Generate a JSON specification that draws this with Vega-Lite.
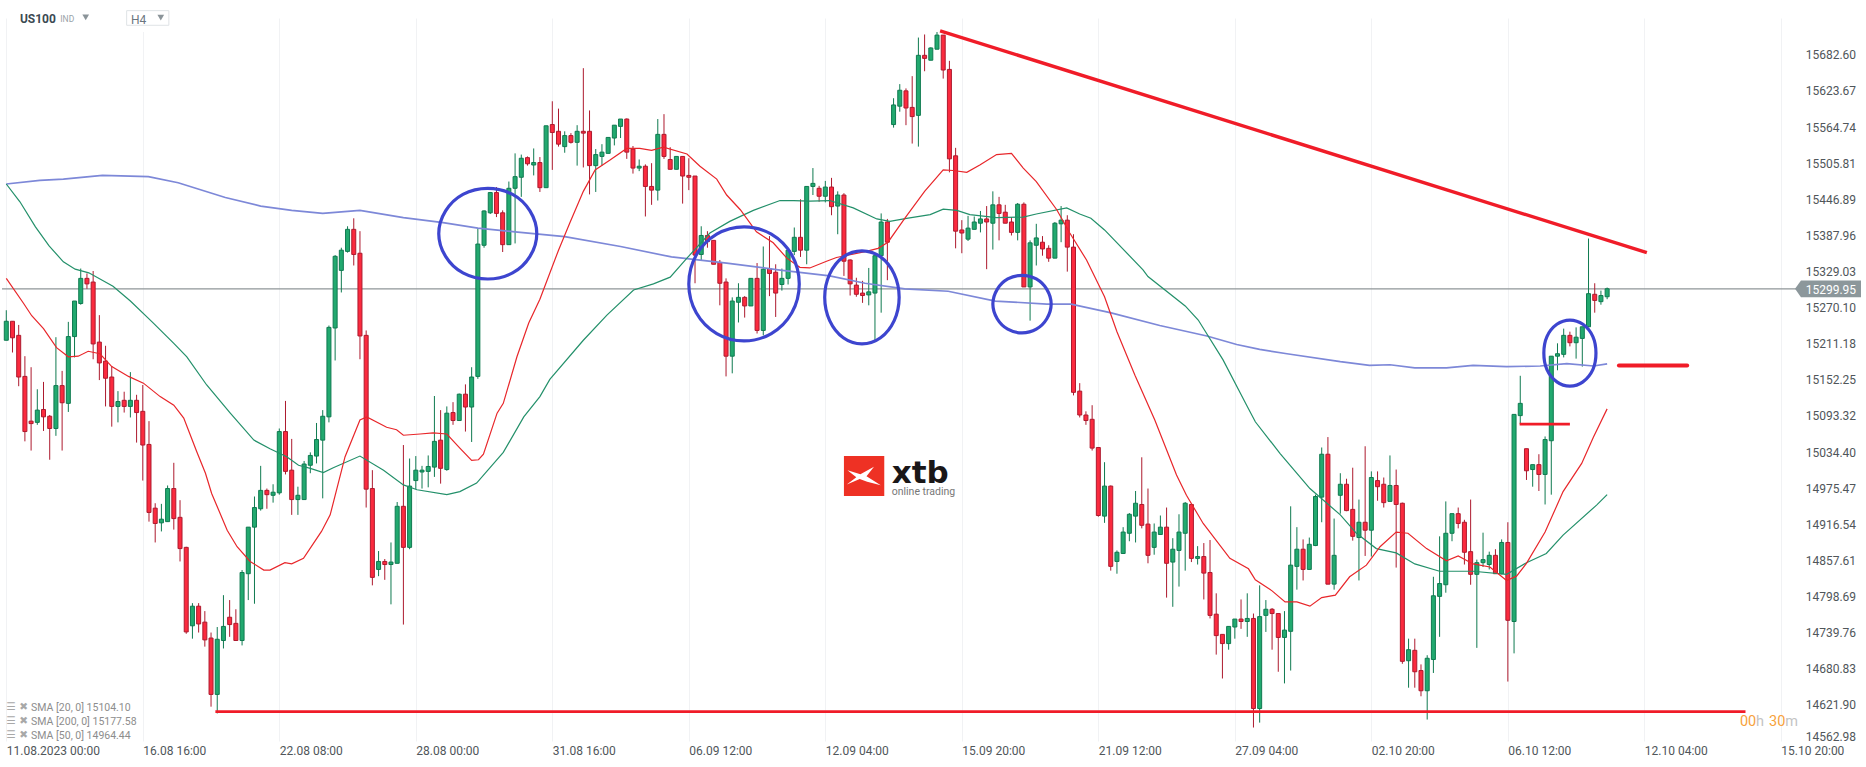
{
"$schema":"https://vega.github.io/schema/vega-lite/v6.json",
"autosize":{"type":"none"},
"padding":{"left":2,"top":18,"right":69,"bottom":26},
"width":1795,
"height":723,
"background":"white",
"config":{"view":{"stroke":null},"text":{"font":"Roboto"}},
"datasets":{
"candles":[
{"i":0,"o":15216,"h":15265,"l":15216,"c":15247},{"i":1,"o":15247,"h":15247,"l":15196,"c":15220},{"i":2,"o":15224,"h":15241,"l":15141,"c":15156},{"i":3,"o":15157,"h":15190,"l":15051,"c":15067},{"i":4,"o":15084,"h":15172,"l":15036,"c":15080},{"i":5,"o":15082,"h":15136,"l":15078,"c":15102},{"i":6,"o":15103,"h":15148,"l":15068,"c":15091},{"i":7,"o":15092,"h":15094,"l":15021,"c":15072},{"i":8,"o":15072,"h":15221,"l":15060,"c":15142},{"i":9,"o":15142,"h":15166,"l":15036,"c":15114},
{"i":10,"o":15113,"h":15246,"l":15099,"c":15222},{"i":11,"o":15222,"h":15280,"l":15188,"c":15280},{"i":12,"o":15276,"h":15333,"l":15274,"c":15317},{"i":13,"o":15317,"h":15325,"l":15300,"c":15308},{"i":14,"o":15311,"h":15329,"l":15185,"c":15210},{"i":15,"o":15213,"h":15257,"l":15151,"c":15179},{"i":16,"o":15182,"h":15207,"l":15108,"c":15154},{"i":17,"o":15156,"h":15174,"l":15075,"c":15108},{"i":18,"o":15108,"h":15133,"l":15082,"c":15116},{"i":19,"o":15118,"h":15132,"l":15098,"c":15108},
{"i":20,"o":15108,"h":15164,"l":15090,"c":15118},{"i":21,"o":15118,"h":15127,"l":15049,"c":15098},{"i":22,"o":15100,"h":15143,"l":14987,"c":15045},{"i":23,"o":15046,"h":15084,"l":14920,"c":14935},{"i":24,"o":14942,"h":14950,"l":14886,"c":14917},{"i":25,"o":14918,"h":14949,"l":14904,"c":14924},{"i":26,"o":14920,"h":14979,"l":14920,"c":14974},{"i":27,"o":14974,"h":15016,"l":14907,"c":14925},{"i":28,"o":14927,"h":14955,"l":14855,"c":14876},{"i":29,"o":14878,"h":14879,"l":14737,"c":14740},
{"i":30,"o":14750,"h":14787,"l":14729,"c":14782},{"i":31,"o":14782,"h":14787,"l":14739,"c":14753},{"i":32,"o":14756,"h":14774,"l":14716,"c":14727},{"i":33,"o":14730,"h":14739,"l":14618,"c":14638},{"i":34,"o":14638,"h":14748,"l":14607,"c":14728},{"i":35,"o":14726,"h":14800,"l":14713,"c":14749},{"i":36,"o":14764,"h":14792,"l":14732,"c":14752},{"i":37,"o":14754,"h":14777,"l":14726,"c":14726},{"i":38,"o":14726,"h":14841,"l":14718,"c":14837},{"i":39,"o":14835,"h":14911,"l":14792,"c":14911},
{"i":40,"o":14911,"h":14961,"l":14786,"c":14943},{"i":41,"o":14941,"h":15011,"l":14938,"c":14971},{"i":42,"o":14971,"h":14974,"l":14941,"c":14964},{"i":43,"o":14963,"h":14981,"l":14951,"c":14968},{"i":44,"o":14967,"h":15072,"l":14964,"c":15067},{"i":45,"o":15067,"h":15117,"l":14997,"c":15002},{"i":46,"o":15004,"h":15055,"l":14931,"c":14956},{"i":47,"o":14956,"h":14977,"l":14931,"c":14963},{"i":48,"o":14956,"h":15019,"l":14956,"c":15014},{"i":49,"o":15012,"h":15033,"l":14999,"c":15028},
{"i":50,"o":15027,"h":15081,"l":15015,"c":15054},{"i":51,"o":15053,"h":15102,"l":14958,"c":15092},{"i":52,"o":15091,"h":15240,"l":15082,"c":15237},{"i":53,"o":15236,"h":15355,"l":15183,"c":15353},{"i":54,"o":15330,"h":15367,"l":15294,"c":15363},{"i":55,"o":15361,"h":15402,"l":15359,"c":15397},{"i":56,"o":15397,"h":15415,"l":15338,"c":15356},{"i":57,"o":15358,"h":15394,"l":15185,"c":15223},{"i":58,"o":15224,"h":15232,"l":14943,"c":14973},{"i":59,"o":14974,"h":15004,"l":14816,"c":14829},
{"i":60,"o":14842,"h":14872,"l":14831,"c":14855},{"i":61,"o":14855,"h":14859,"l":14825,"c":14850},{"i":62,"o":14850,"h":14886,"l":14785,"c":14854},{"i":63,"o":14852,"h":14952,"l":14852,"c":14945},{"i":64,"o":14945,"h":15045,"l":14752,"c":14878},{"i":65,"o":14878,"h":15023,"l":14875,"c":14978},{"i":66,"o":14987,"h":15027,"l":14973,"c":15004},{"i":67,"o":15001,"h":15011,"l":14974,"c":15004},{"i":68,"o":15002,"h":15028,"l":14976,"c":15010},{"i":69,"o":15009,"h":15125,"l":14993,"c":15051},
{"i":70,"o":15053,"h":15102,"l":14982,"c":15007},{"i":71,"o":15005,"h":15108,"l":15003,"c":15097},{"i":72,"o":15098,"h":15115,"l":15078,"c":15085},{"i":73,"o":15085,"h":15129,"l":15085,"c":15128},{"i":74,"o":15128,"h":15144,"l":15067,"c":15107},{"i":75,"o":15107,"h":15172,"l":15050,"c":15156},{"i":76,"o":15157,"h":15399,"l":15153,"c":15373},{"i":77,"o":15371,"h":15428,"l":15367,"c":15427},{"i":78,"o":15424,"h":15458,"l":15422,"c":15457},{"i":79,"o":15457,"h":15466,"l":15417,"c":15423},
{"i":80,"o":15424,"h":15428,"l":15360,"c":15372},{"i":81,"o":15372,"h":15475,"l":15372,"c":15464},{"i":82,"o":15464,"h":15521,"l":15374,"c":15483},{"i":83,"o":15482,"h":15519,"l":15450,"c":15513},{"i":84,"o":15514,"h":15516,"l":15501,"c":15504},{"i":85,"o":15502,"h":15529,"l":15485,"c":15506},{"i":86,"o":15506,"h":15515,"l":15458,"c":15465},{"i":87,"o":15465,"h":15566,"l":15465,"c":15566},{"i":88,"o":15568,"h":15606,"l":15494,"c":15555},{"i":89,"o":15557,"h":15594,"l":15532,"c":15536},
{"i":90,"o":15532,"h":15557,"l":15522,"c":15550},{"i":91,"o":15550,"h":15554,"l":15537,"c":15539},{"i":92,"o":15539,"h":15567,"l":15501,"c":15557},{"i":93,"o":15557,"h":15660,"l":15498,"c":15554},{"i":94,"o":15557,"h":15591,"l":15454,"c":15501},{"i":95,"o":15501,"h":15528,"l":15458,"c":15519},{"i":96,"o":15516,"h":15536,"l":15501,"c":15523},{"i":97,"o":15521,"h":15547,"l":15521,"c":15547},{"i":98,"o":15546,"h":15567,"l":15534,"c":15567},{"i":99,"o":15565,"h":15577,"l":15546,"c":15577},
{"i":100,"o":15577,"h":15578,"l":15512,"c":15523},{"i":101,"o":15528,"h":15533,"l":15488,"c":15497},{"i":102,"o":15497,"h":15511,"l":15492,"c":15500},{"i":103,"o":15500,"h":15503,"l":15418,"c":15467},{"i":104,"o":15467,"h":15505,"l":15437,"c":15461},{"i":105,"o":15461,"h":15577,"l":15444,"c":15552},{"i":106,"o":15552,"h":15585,"l":15512,"c":15516},{"i":107,"o":15511,"h":15531,"l":15495,"c":15495},{"i":108,"o":15495,"h":15516,"l":15495,"c":15516},{"i":109,"o":15516,"h":15516,"l":15439,"c":15484},
{"i":110,"o":15485,"h":15513,"l":15461,"c":15482},{"i":111,"o":15484,"h":15484,"l":15309,"c":15355},{"i":112,"o":15356,"h":15402,"l":15347,"c":15387},{"i":113,"o":15387,"h":15394,"l":15367,"c":15377},{"i":114,"o":15379,"h":15379,"l":15340,"c":15340},{"i":115,"o":15343,"h":15347,"l":15273,"c":15309},{"i":116,"o":15311,"h":15317,"l":15157,"c":15190},{"i":117,"o":15190,"h":15286,"l":15162,"c":15280},{"i":118,"o":15278,"h":15309,"l":15245,"c":15286},{"i":119,"o":15286,"h":15288,"l":15253,"c":15272},
{"i":120,"o":15272,"h":15317,"l":15272,"c":15317},{"i":121,"o":15317,"h":15342,"l":15227,"c":15232},{"i":122,"o":15232,"h":15369,"l":15224,"c":15332},{"i":123,"o":15333,"h":15386,"l":15288,"c":15325},{"i":124,"o":15327,"h":15340,"l":15254,"c":15293},{"i":125,"o":15307,"h":15333,"l":15297,"c":15317},{"i":126,"o":15317,"h":15363,"l":15307,"c":15363},{"i":127,"o":15361,"h":15400,"l":15355,"c":15384},{"i":128,"o":15384,"h":15446,"l":15352,"c":15363},{"i":129,"o":15363,"h":15467,"l":15340,"c":15467},
{"i":130,"o":15467,"h":15497,"l":15453,"c":15472},{"i":131,"o":15464,"h":15468,"l":15442,"c":15451},{"i":132,"o":15451,"h":15476,"l":15441,"c":15466},{"i":133,"o":15466,"h":15481,"l":15420,"c":15434},{"i":134,"o":15435,"h":15459,"l":15389,"c":15453},{"i":135,"o":15453,"h":15456,"l":15321,"c":15345},{"i":136,"o":15347,"h":15348,"l":15289,"c":15308},{"i":137,"o":15306,"h":15318,"l":15287,"c":15291},{"i":138,"o":15293,"h":15313,"l":15277,"c":15289},{"i":139,"o":15290,"h":15334,"l":15273,"c":15295},
{"i":140,"o":15293,"h":15358,"l":15213,"c":15354},{"i":141,"o":15354,"h":15423,"l":15261,"c":15409},{"i":142,"o":15409,"h":15414,"l":15314,"c":15376},{"i":143,"o":15568,"h":15611,"l":15563,"c":15600},{"i":144,"o":15598,"h":15634,"l":15589,"c":15624},{"i":145,"o":15623,"h":15627,"l":15567,"c":15595},{"i":146,"o":15596,"h":15647,"l":15537,"c":15581},{"i":147,"o":15583,"h":15710,"l":15532,"c":15681},{"i":148,"o":15681,"h":15715,"l":15655,"c":15676},{"i":149,"o":15673,"h":15694,"l":15673,"c":15693},
{"i":150,"o":15691,"h":15719,"l":15691,"c":15714},{"i":151,"o":15714,"h":15714,"l":15643,"c":15657},{"i":152,"o":15658,"h":15672,"l":15490,"c":15512},{"i":153,"o":15517,"h":15530,"l":15366,"c":15394},{"i":154,"o":15396,"h":15412,"l":15358,"c":15391},{"i":155,"o":15381,"h":15419,"l":15378,"c":15399},{"i":156,"o":15397,"h":15418,"l":15397,"c":15409},{"i":157,"o":15407,"h":15427,"l":15392,"c":15414},{"i":158,"o":15414,"h":15435,"l":15332,"c":15409},{"i":159,"o":15407,"h":15459,"l":15364,"c":15437},
{"i":160,"o":15437,"h":15450,"l":15379,"c":15423},{"i":161,"o":15425,"h":15437,"l":15407,"c":15407},{"i":162,"o":15409,"h":15417,"l":15387,"c":15392},{"i":163,"o":15392,"h":15440,"l":15379,"c":15438},{"i":164,"o":15438,"h":15441,"l":15303,"c":15303},{"i":165,"o":15303,"h":15379,"l":15248,"c":15375},{"i":166,"o":15371,"h":15406,"l":15338,"c":15383},{"i":167,"o":15376,"h":15386,"l":15354,"c":15365},{"i":168,"o":15366,"h":15371,"l":15344,"c":15350},{"i":169,"o":15350,"h":15409,"l":15350,"c":15407},
{"i":170,"o":15406,"h":15435,"l":15376,"c":15412},{"i":171,"o":15412,"h":15420,"l":15328,"c":15368},{"i":172,"o":15368,"h":15389,"l":15126,"c":15131},{"i":173,"o":15133,"h":15146,"l":15090,"c":15094},{"i":174,"o":15094,"h":15100,"l":15078,"c":15085},{"i":175,"o":15087,"h":15110,"l":15036,"c":15040},{"i":176,"o":15041,"h":15041,"l":14928,"c":14930},{"i":177,"o":14929,"h":15017,"l":14918,"c":14978},{"i":178,"o":14978,"h":14979,"l":14840,"c":14847},{"i":179,"o":14855,"h":14873,"l":14835,"c":14870},
{"i":180,"o":14868,"h":14911,"l":14868,"c":14903},{"i":181,"o":14901,"h":14934,"l":14888,"c":14932},{"i":182,"o":14929,"h":14970,"l":14886,"c":14950},{"i":183,"o":14948,"h":15025,"l":14909,"c":14914},{"i":184,"o":14916,"h":14974,"l":14852,"c":14865},{"i":185,"o":14878,"h":14917,"l":14866,"c":14903},{"i":186,"o":14899,"h":14930,"l":14899,"c":14911},{"i":187,"o":14911,"h":14943,"l":14796,"c":14852},{"i":188,"o":14854,"h":14893,"l":14781,"c":14875},{"i":189,"o":14873,"h":14932,"l":14814,"c":14903},
{"i":190,"o":14901,"h":14952,"l":14840,"c":14950},{"i":191,"o":14948,"h":14948,"l":14854,"c":14860},{"i":192,"o":14860,"h":14880,"l":14850,"c":14863},{"i":193,"o":14863,"h":14885,"l":14793,"c":14836},{"i":194,"o":14837,"h":14890,"l":14762,"c":14767},{"i":195,"o":14769,"h":14803,"l":14703,"c":14734},{"i":196,"o":14736,"h":14736,"l":14664,"c":14721},{"i":197,"o":14721,"h":14749,"l":14711,"c":14749},{"i":198,"o":14748,"h":14761,"l":14729,"c":14761},{"i":199,"o":14761,"h":14793,"l":14745,"c":14757},
{"i":200,"o":14757,"h":14803,"l":14732,"c":14762},{"i":201,"o":14762,"h":14770,"l":14584,"c":14615},{"i":202,"o":14615,"h":14816,"l":14592,"c":14765},{"i":203,"o":14767,"h":14792,"l":14740,"c":14777},{"i":204,"o":14777,"h":14779,"l":14711,"c":14770},{"i":205,"o":14770,"h":14770,"l":14675,"c":14731},{"i":206,"o":14731,"h":14774,"l":14656,"c":14743},{"i":207,"o":14741,"h":14945,"l":14677,"c":14849},{"i":208,"o":14847,"h":14911,"l":14809,"c":14875},{"i":209,"o":14875,"h":14891,"l":14824,"c":14842},
{"i":210,"o":14842,"h":14894,"l":14842,"c":14883},{"i":211,"o":14881,"h":14964,"l":14880,"c":14961},{"i":212,"o":14960,"h":15041,"l":14919,"c":15030},{"i":213,"o":15030,"h":15058,"l":14818,"c":14818},{"i":214,"o":14818,"h":14925,"l":14809,"c":14865},{"i":215,"o":14963,"h":14999,"l":14933,"c":14981},{"i":216,"o":14981,"h":14990,"l":14937,"c":14938},{"i":217,"o":14940,"h":15008,"l":14889,"c":14896},{"i":218,"o":14894,"h":14956,"l":14824,"c":14919},{"i":219,"o":14919,"h":15043,"l":14864,"c":14906},
{"i":220,"o":14906,"h":15002,"l":14863,"c":14992},{"i":221,"o":14987,"h":15002,"l":14954,"c":14977},{"i":222,"o":14981,"h":14992,"l":14943,"c":14951},{"i":223,"o":14953,"h":15028,"l":14953,"c":14979},{"i":224,"o":14979,"h":15005,"l":14845,"c":14948},{"i":225,"o":14950,"h":14951,"l":14688,"c":14692},{"i":226,"o":14693,"h":14729,"l":14649,"c":14711},{"i":227,"o":14710,"h":14729,"l":14649,"c":14675},{"i":228,"o":14677,"h":14687,"l":14635,"c":14644},{"i":229,"o":14644,"h":14702,"l":14597,"c":14697},
{"i":230,"o":14695,"h":14830,"l":14673,"c":14799},{"i":231,"o":14798,"h":14896,"l":14732,"c":14819},{"i":232,"o":14817,"h":14953,"l":14804,"c":14901},{"i":233,"o":14901,"h":14933,"l":14888,"c":14933},{"i":234,"o":14933,"h":14943,"l":14909,"c":14917},{"i":235,"o":14919,"h":14923,"l":14850,"c":14870},{"i":236,"o":14871,"h":14956,"l":14817,"c":14834},{"i":237,"o":14834,"h":14858,"l":14714,"c":14853},{"i":238,"o":14853,"h":14902,"l":14846,"c":14858},{"i":239,"o":14850,"h":14871,"l":14842,"c":14865},
{"i":240,"o":14865,"h":14875,"l":14835,"c":14835},{"i":241,"o":14835,"h":14891,"l":14834,"c":14886},{"i":242,"o":14886,"h":14919,"l":14659,"c":14759},{"i":243,"o":14757,"h":15095,"l":14705,"c":15095},{"i":244,"o":15093,"h":15158,"l":15079,"c":15113},{"i":245,"o":15039,"h":15039,"l":14988,"c":15003},{"i":246,"o":15005,"h":15013,"l":14977,"c":15013},{"i":247,"o":15013,"h":15030,"l":14970,"c":14997},{"i":248,"o":14997,"h":15059,"l":14948,"c":15054},{"i":249,"o":15052,"h":15190,"l":14964,"c":15190},
{"i":250,"o":15190,"h":15211,"l":15167,"c":15194},{"i":251,"o":15193,"h":15235,"l":15188,"c":15224},{"i":252,"o":15224,"h":15230,"l":15206,"c":15212},{"i":253,"o":15212,"h":15237,"l":15186,"c":15221},{"i":254,"o":15219,"h":15238,"l":15173,"c":15238},{"i":255,"o":15238,"h":15382,"l":15238,"c":15292},{"i":256,"o":15291,"h":15309,"l":15261,"c":15281},{"i":257,"o":15279,"h":15297,"l":15274,"c":15289},{"i":258,"o":15287,"h":15302,"l":15283,"c":15300}
],
"sma20":[
{"i":0,"p":15317},{"i":2.8,"p":15276},{"i":4.1,"p":15256},{"i":6,"p":15235},{"i":8.1,"p":15204},{"i":10,"p":15189},{"i":11.6,"p":15190},{"i":13.2,"p":15198},{"i":15.1,"p":15194},{"i":17,"p":15173},{"i":19.7,"p":15157},{"i":22.1,"p":15146},{"i":24.8,"p":15124},{"i":27,"p":15110},{"i":28.6,"p":15089},{"i":30.7,"p":15034},{"i":32.1,"p":14999},{"i":33.1,"p":14966},{"i":35.6,"p":14906},{"i":37.2,"p":14879},{"i":39.3,"p":14855},{"i":41.5,"p":14841},{"i":42.5,"p":14841},{"i":44.9,"p":14853},{"i":46,"p":14851},{"i":47.9,"p":14860},{"i":50.8,"p":14904},{"i":52.2,"p":14931},{"i":54.6,"p":15026},{"i":57,"p":15086},{"i":58.1,"p":15091},{"i":61.3,"p":15074},{"i":62.9,"p":15070},{"i":64,"p":15061},{"i":66.7,"p":15063},{"i":68.8,"p":15065},{"i":71,"p":15063},{"i":73.1,"p":15040},{"i":75,"p":15020},{"i":76.1,"p":15021},{"i":76.9,"p":15030},{"i":79.1,"p":15097},{"i":80.1,"p":15113},{"i":82.3,"p":15189},{"i":84.2,"p":15244},{"i":86,"p":15283},{"i":89,"p":15363},{"i":90.8,"p":15407},{"i":93,"p":15459},{"i":94.9,"p":15494},{"i":97.3,"p":15510},{"i":100,"p":15529},{"i":102.1,"p":15529},{"i":104,"p":15526},{"i":105.9,"p":15531},{"i":109.7,"p":15520},{"i":111.8,"p":15500},{"i":114.5,"p":15479},{"i":116.1,"p":15453},{"i":118.3,"p":15429},{"i":120.9,"p":15393},{"i":123.6,"p":15375},{"i":125.8,"p":15350},{"i":127.9,"p":15335},{"i":129.5,"p":15334},{"i":132.2,"p":15345},{"i":133.8,"p":15351},{"i":138.6,"p":15361},{"i":140.5,"p":15366},{"i":142.1,"p":15376},{"i":144.8,"p":15415},{"i":148,"p":15459},{"i":151,"p":15494},{"i":152.6,"p":15493},{"i":154.8,"p":15490},{"i":156.9,"p":15502},{"i":159.6,"p":15519},{"i":162,"p":15521},{"i":163.9,"p":15497},{"i":166,"p":15475},{"i":169.3,"p":15429},{"i":171.4,"p":15391},{"i":174.1,"p":15347},{"i":177,"p":15287},{"i":179,"p":15230},{"i":181.9,"p":15159},{"i":185.1,"p":15086},{"i":188.6,"p":14996},{"i":190.2,"p":14963},{"i":192.9,"p":14917},{"i":197.2,"p":14860},{"i":200.2,"p":14843},{"i":201.3,"p":14825},{"i":204,"p":14807},{"i":206.1,"p":14789},{"i":208,"p":14789},{"i":210.1,"p":14782},{"i":212,"p":14796},{"i":214.2,"p":14800},{"i":216.5,"p":14830},{"i":219.2,"p":14849},{"i":221.4,"p":14879},{"i":224,"p":14903},{"i":225.9,"p":14901},{"i":228.9,"p":14876},{"i":232.1,"p":14856},{"i":234,"p":14864},{"i":236.4,"p":14851},{"i":239.1,"p":14846},{"i":241.8,"p":14824},{"i":243.4,"p":14831},{"i":245,"p":14852},{"i":248,"p":14903},{"i":250.9,"p":14969},{"i":253.9,"p":15015},{"i":255.8,"p":15058},{"i":258,"p":15104}
],
"sma50":[
{"i":0,"p":15471},{"i":2.2,"p":15442},{"i":4.7,"p":15401},{"i":6.9,"p":15370},{"i":9.2,"p":15344},{"i":11.1,"p":15332},{"i":13.3,"p":15326},{"i":17.2,"p":15304},{"i":20,"p":15280},{"i":23.5,"p":15246},{"i":27,"p":15211},{"i":29.1,"p":15189},{"i":32.3,"p":15143},{"i":36.1,"p":15097},{"i":39.9,"p":15053},{"i":42.5,"p":15039},{"i":45.2,"p":15026},{"i":47.1,"p":15012},{"i":49,"p":15007},{"i":51.1,"p":15000},{"i":52.7,"p":15008},{"i":57,"p":15027},{"i":60.8,"p":15004},{"i":64,"p":14980},{"i":66.2,"p":14972},{"i":71,"p":14964},{"i":73.1,"p":14969},{"i":75.8,"p":14983},{"i":80.1,"p":15033},{"i":83.4,"p":15091},{"i":86,"p":15124},{"i":87.6,"p":15152},{"i":93,"p":15216},{"i":96.8,"p":15257},{"i":101.1,"p":15298},{"i":104.3,"p":15308},{"i":107,"p":15319},{"i":109.7,"p":15350},{"i":113.4,"p":15391},{"i":116.6,"p":15410},{"i":120.4,"p":15428},{"i":124.7,"p":15444},{"i":126.9,"p":15444},{"i":129.5,"p":15443},{"i":132.7,"p":15444},{"i":136.5,"p":15432},{"i":140.3,"p":15414},{"i":142.4,"p":15410},{"i":145.1,"p":15415},{"i":148.9,"p":15421},{"i":151,"p":15430},{"i":153.2,"p":15428},{"i":155.3,"p":15421},{"i":159.6,"p":15416},{"i":163.9,"p":15417},{"i":166,"p":15422},{"i":170.9,"p":15432},{"i":173,"p":15422},{"i":174.8,"p":15415},{"i":177,"p":15396},{"i":183.2,"p":15331},{"i":184,"p":15320},{"i":190,"p":15272},{"i":192.1,"p":15249},{"i":196.1,"p":15184},{"i":199.9,"p":15110},{"i":201.3,"p":15083},{"i":205.3,"p":15031},{"i":210.1,"p":14974},{"i":215,"p":14931},{"i":217.6,"p":14901},{"i":220.8,"p":14876},{"i":224,"p":14869},{"i":227,"p":14851},{"i":231,"p":14839},{"i":236.4,"p":14839},{"i":241.8,"p":14834},{"i":245,"p":14853},{"i":248.2,"p":14868},{"i":250.9,"p":14898},{"i":256.3,"p":14947},{"i":258,"p":14964}
],
"sma200":[
{"i":0,"p":15471},{"i":5.4,"p":15477},{"i":9.2,"p":15479},{"i":15.5,"p":15485},{"i":22.9,"p":15483},{"i":27.7,"p":15473},{"i":35.3,"p":15449},{"i":41,"p":15435},{"i":46,"p":15428},{"i":51,"p":15423},{"i":57,"p":15428},{"i":64,"p":15416},{"i":70.4,"p":15408},{"i":76,"p":15399},{"i":82,"p":15393},{"i":90,"p":15385},{"i":99,"p":15369},{"i":107.2,"p":15352},{"i":116.1,"p":15342},{"i":124.4,"p":15331},{"i":132.7,"p":15321},{"i":138.4,"p":15309},{"i":144.8,"p":15300},{"i":151.8,"p":15296},{"i":159.4,"p":15280},{"i":167.7,"p":15275},{"i":171.6,"p":15275},{"i":177.9,"p":15261},{"i":185.9,"p":15240},{"i":193.5,"p":15223},{"i":198.3,"p":15209},{"i":202,"p":15201},{"i":206.4,"p":15194},{"i":215,"p":15181},{"i":219.7,"p":15175},{"i":223,"p":15176},{"i":227,"p":15171},{"i":232.1,"p":15171},{"i":236.4,"p":15175},{"i":241.8,"p":15173},{"i":247.2,"p":15174},{"i":251.5,"p":15178},{"i":255.8,"p":15174},{"i":258,"p":15177.58}
],
"ellipses":[
{"e":1,"k":0,"i":85.5,"p":15390},{"e":1,"k":1,"i":84.4,"p":15427},{"e":1,"k":2,"i":81.6,"p":15454},{"e":1,"k":3,"i":77.6,"p":15464},{"e":1,"k":4,"i":73.6,"p":15454},{"e":1,"k":5,"i":70.8,"p":15427},{"e":1,"k":6,"i":69.7,"p":15390},{"e":1,"k":7,"i":70.8,"p":15353},{"e":1,"k":8,"i":73.6,"p":15326},{"e":1,"k":9,"i":77.6,"p":15316},{"e":1,"k":10,"i":81.6,"p":15326},{"e":1,"k":11,"i":84.4,"p":15353},
{"e":2,"k":0,"i":127.8,"p":15308},{"e":2,"k":1,"i":126.6,"p":15355},{"e":2,"k":2,"i":123.3,"p":15389},{"e":2,"k":3,"i":118.9,"p":15401},{"e":2,"k":4,"i":114.5,"p":15389},{"e":2,"k":5,"i":111.2,"p":15355},{"e":2,"k":6,"i":110,"p":15308},{"e":2,"k":7,"i":111.2,"p":15261},{"e":2,"k":8,"i":114.5,"p":15227},{"e":2,"k":9,"i":118.9,"p":15215},{"e":2,"k":10,"i":123.3,"p":15227},{"e":2,"k":11,"i":126.6,"p":15261},
{"e":3,"k":0,"i":143.9,"p":15286},{"e":3,"k":1,"i":143.1,"p":15324},{"e":3,"k":2,"i":140.9,"p":15352},{"e":3,"k":3,"i":137.9,"p":15362},{"e":3,"k":4,"i":134.9,"p":15352},{"e":3,"k":5,"i":132.7,"p":15324},{"e":3,"k":6,"i":131.9,"p":15286},{"e":3,"k":7,"i":132.7,"p":15248},{"e":3,"k":8,"i":134.9,"p":15220},{"e":3,"k":9,"i":137.9,"p":15210},{"e":3,"k":10,"i":140.9,"p":15220},{"e":3,"k":11,"i":143.1,"p":15248},
{"e":4,"k":0,"i":168.4,"p":15275},{"e":4,"k":1,"i":167.7,"p":15299},{"e":4,"k":2,"i":166,"p":15316},{"e":4,"k":3,"i":163.7,"p":15322},{"e":4,"k":4,"i":161.4,"p":15316},{"e":4,"k":5,"i":159.7,"p":15299},{"e":4,"k":6,"i":159,"p":15275},{"e":4,"k":7,"i":159.7,"p":15251},{"e":4,"k":8,"i":161.4,"p":15234},{"e":4,"k":9,"i":163.7,"p":15228},{"e":4,"k":10,"i":166,"p":15234},{"e":4,"k":11,"i":167.7,"p":15251},
{"e":5,"k":0,"i":256.2,"p":15195},{"e":5,"k":1,"i":255.7,"p":15222},{"e":5,"k":2,"i":254.1,"p":15242},{"e":5,"k":3,"i":252,"p":15249},{"e":5,"k":4,"i":249.9,"p":15242},{"e":5,"k":5,"i":248.3,"p":15222},{"e":5,"k":6,"i":247.8,"p":15195},{"e":5,"k":7,"i":248.3,"p":15168},{"e":5,"k":8,"i":249.9,"p":15148},{"e":5,"k":9,"i":252,"p":15141},{"e":5,"k":10,"i":254.1,"p":15148},{"e":5,"k":11,"i":255.7,"p":15168}
]
},
"encoding":{
"x":{"field":"i","type":"quantitative","title":null,"scale":{"domain":[-0.69,288.6],"nice":false,"zero":false,"padding":0},
"axis":{"values":[0,22,44,66,88,110,132,154,176,198,220,242,264,286],
"labelExpr":"['11.08.2023  00:00','16.08  16:00','22.08  08:00','28.08  00:00','31.08  16:00','06.09  12:00','12.09  04:00','15.09  20:00','21.09  12:00','27.09  04:00','02.10  20:00','06.10  12:00','12.10  04:00','15.10  20:00'][datum.value/22]",
"grid":true,"gridColor":"#f1f2f4","gridWidth":1,"ticks":false,"domain":false,"labelAlign":"left","labelBaseline":"middle","labelPadding":9,"labelFont":"Roboto","labelFontSize":12,"labelColor":"#50565a","labelOverlap":false,"labelBound":false,"labelFlush":false}},
"y":{"field":"p","type":"quantitative","title":null,"scale":{"domain":[14562,15741.9],"nice":false,"zero":false},
"axis":{"orient":"right","values":[15682.6,15623.67,15564.74,15505.81,15446.89,15387.96,15329.03,15270.1,15211.18,15152.25,15093.32,15034.4,14975.47,14916.54,14857.61,14798.69,14739.76,14680.83,14621.9,14562.98],
"grid":true,"gridColor":"#f1f2f4","gridWidth":1,"ticks":false,"domain":false,"labels":false}}
},
"layer":[
{"data":{"values":[{"i":132.9,"i2":153.7,"p":15042,"p2":14955.4},{"i":19.4,"i2":26.2,"p":15741.9,"p2":15719}]},
"mark":{"type":"rect","color":"white"},
"encoding":{"x2":{"field":"i2"},"y2":{"field":"p2"}}},
{"data":{"values":[{"i":-0.69,"i2":288.6,"p":15299.95,"p2":15299.95}]},
"mark":{"type":"rule","color":"#8f9698","strokeWidth":1.2},
"encoding":{"x2":{"field":"i2"},"y2":{"field":"p2"}}},
{"data":{"name":"candles"},
"mark":{"type":"rule","strokeWidth":1},
"encoding":{"y":{"field":"h","type":"quantitative","title":null,"axis":null,"scale":{"domain":[14562,15741.9],"nice":false,"zero":false}},"y2":{"field":"l"},
"color":{"condition":{"test":"datum.c>=datum.o","value":"#0f7a50"},"value":"#ad1a2e"}}},
{"data":{"name":"candles"},
"mark":{"type":"bar","size":4,"strokeWidth":1,"orient":"vertical"},
"encoding":{"y":{"field":"o","type":"quantitative","title":null,"axis":null,"scale":{"domain":[14562,15741.9],"nice":false,"zero":false}},"y2":{"field":"c"},
"fill":{"condition":{"test":"datum.c>=datum.o","value":"#22a96f"},"value":"#fb2a3e"},
"stroke":{"condition":{"test":"datum.c>=datum.o","value":"#0f7a50"},"value":"#ad1a2e"}}},
{"data":{"name":"sma200"},"mark":{"type":"line","color":"#7d88d8","strokeWidth":1.7}},
{"data":{"name":"sma50"},"mark":{"type":"line","color":"#23906a","strokeWidth":1.2}},
{"data":{"name":"sma20"},"mark":{"type":"line","color":"#e8262a","strokeWidth":1.2}},
{"data":{"name":"ellipses"},
"mark":{"type":"line","color":"#3d45cf","strokeWidth":3.2,"interpolate":"cardinal-closed"},
"encoding":{"detail":{"field":"e"},"order":{"field":"k"}}},
{"data":{"values":[{"i":150.5,"i2":264.4,"p":15721,"p2":15359}]},
"mark":{"type":"rule","color":"#f01c28","strokeWidth":3.4},
"encoding":{"x2":{"field":"i2"},"y2":{"field":"p2"}}},
{"data":{"values":[{"i":33.7,"i2":280.3,"p":14610,"p2":14610},{"i":243.9,"i2":252,"p":15079,"p2":15079}]},
"mark":{"type":"rule","color":"#f01c28","strokeWidth":2.8},
"encoding":{"x2":{"field":"i2"},"y2":{"field":"p2"}}},
{"data":{"values":[{"i":259.9,"i2":270.9,"p":15175,"p2":15175}]},
"mark":{"type":"rule","color":"#f01c28","strokeWidth":4,"strokeCap":"round"},
"encoding":{"x2":{"field":"i2"},"y2":{"field":"p2"}}},
{"data":{"values":[{"i":135,"i2":141.5,"p":15027,"p2":14962}]},
"mark":{"type":"rect","color":"#ee3124"},
"encoding":{"x2":{"field":"i2"},"y2":{"field":"p2"}}},
{"data":{"values":[{"i":138.2,"p":14994}]},
"mark":{"type":"point","filled":true,"color":"white","opacity":1,"size":4624,"shape":"M-.48,-.18L-.1,-.06L.3,-.28L.08,0L.5,.26L.1,.16L-.12,.08L-.5,.24L-.22,.03Z"}},
{"data":{"values":[{"i":142.7,"p":14983,"t":"xtb"}]},
"mark":{"type":"text","font":"DejaVu Sans","fontWeight":"bold","fontSize":31,"color":"#1a1718","align":"left","baseline":"alphabetic"},
"encoding":{"text":{"field":"t"}}},
{"data":{"values":[{"i":142.7,"p":14968,"t":"online trading"}]},
"mark":{"type":"text","fontSize":10.5,"color":"#777777","align":"left","baseline":"middle"},
"encoding":{"text":{"field":"t"}}},
{"data":{"values":[{"i":4,"p":14616.6,"t":"SMA [20,  0] 15104.10"},{"i":4,"p":14593.6,"t":"SMA [200,  0] 15177.58"},{"i":4,"p":14570.6,"t":"SMA [50,  0] 14964.44"}]},
"mark":{"type":"text","fontSize":10.5,"color":"#8d8d8d","align":"left","baseline":"middle"},
"encoding":{"text":{"field":"t"}}},
{"data":{"values":[{"i":0.76,"p":14618,"t":"☰"},{"i":0.76,"p":14595,"t":"☰"},{"i":0.76,"p":14572,"t":"☰"},{"i":2.8,"p":14618,"t":"✖"},{"i":2.8,"p":14595,"t":"✖"},{"i":2.8,"p":14572,"t":"✖"}]},
"mark":{"type":"text","font":"DejaVu Sans","fontSize":10.5,"color":"#a8a8a8","align":"center","baseline":"middle"},
"encoding":{"text":{"field":"t"}}},
{"data":{"values":[{"i":279.4,"p":14592.6,"t":"00"},{"i":284.1,"p":14592.6,"t":"30"}]},
"mark":{"type":"text","fontSize":14.5,"color":"#f7a23b","align":"left","baseline":"middle"},
"encoding":{"text":{"field":"t"}}},
{"data":{"values":[{"i":282,"p":14592.6,"t":"h"},{"i":286.7,"p":14592.6,"t":"m"}]},
"mark":{"type":"text","fontSize":14.5,"color":"#c4c4c4","align":"left","baseline":"middle"},
"encoding":{"text":{"field":"t"}}},
{"data":{"values":[{"i":290,"p":15682.6,"t":"15682.60"},{"i":290,"p":15623.67,"t":"15623.67"},{"i":290,"p":15564.74,"t":"15564.74"},{"i":290,"p":15505.81,"t":"15505.81"},{"i":290,"p":15446.89,"t":"15446.89"},{"i":290,"p":15387.96,"t":"15387.96"},{"i":290,"p":15329.03,"t":"15329.03"},{"i":290,"p":15270.1,"t":"15270.10"},{"i":290,"p":15211.18,"t":"15211.18"},{"i":290,"p":15152.25,"t":"15152.25"},{"i":290,"p":15093.32,"t":"15093.32"},{"i":290,"p":15034.4,"t":"15034.40"},{"i":290,"p":14975.47,"t":"14975.47"},{"i":290,"p":14916.54,"t":"14916.54"},{"i":290,"p":14857.61,"t":"14857.61"},{"i":290,"p":14798.69,"t":"14798.69"},{"i":290,"p":14739.76,"t":"14739.76"},{"i":290,"p":14680.83,"t":"14680.83"},{"i":290,"p":14621.9,"t":"14621.90"},{"i":290,"p":14570,"t":"14562.98"}]},
"mark":{"type":"text","fontSize":12,"color":"#50565a","align":"left","baseline":"middle","dy":1},
"encoding":{"text":{"field":"t"}}},
{"data":{"values":[{"i":293.6,"p":15299.95}]},
"mark":{"type":"point","filled":true,"color":"#8c979b","opacity":1,"size":17424,"shape":"M-.5,0L-.41,-.127L.5,-.127L.5,.127L-.41,.127Z"}},
{"data":{"values":[{"i":290,"p":15299.95,"t":"15299.95"}]},
"mark":{"type":"text","fontSize":12,"color":"white","align":"left","baseline":"middle","dy":1},
"encoding":{"text":{"field":"t"}}},
{"data":{"values":[{"i":19.4,"i2":26.2,"p":15753.9,"p2":15730}]},
"mark":{"type":"rect","fill":"white","stroke":"#dfe3e6","strokeWidth":1},
"encoding":{"x2":{"field":"i2"},"y2":{"field":"p2"}}},
{"data":{"values":[{"i":2.2,"p":15740.4,"t":"US100"}]},
"mark":{"type":"text","fontSize":12,"fontWeight":"bold","color":"#3b4a52","align":"left","baseline":"middle"},
"encoding":{"text":{"field":"t"}}},
{"data":{"values":[{"i":8.7,"p":15740.4,"t":"IND"}]},
"mark":{"type":"text","fontSize":8.5,"color":"#9aa3a8","align":"left","baseline":"middle"},
"encoding":{"text":{"field":"t"}}},
{"data":{"values":[{"i":20.1,"p":15738.2,"t":"H4"}]},
"mark":{"type":"text","fontSize":12,"color":"#6b7680","align":"left","baseline":"middle"},
"encoding":{"text":{"field":"t"}}},
{"data":{"values":[{"i":12.8,"p":15742.8},{"i":24.9,"p":15742.5}]},
"mark":{"type":"point","filled":true,"shape":"triangle-down","size":45,"color":"#8b9499","opacity":1}}
]
}
